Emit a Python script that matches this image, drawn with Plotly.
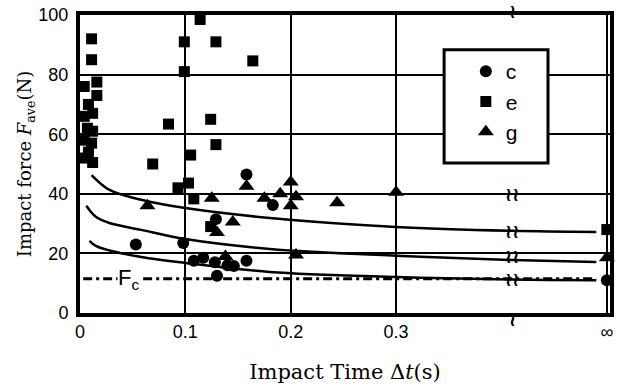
import plotly.graph_objects as go

# ---- data ----
c_t = [0.053, 0.098, 0.108, 0.117, 0.128, 0.13, 0.14, 0.146, 0.158, 0.129, 0.158, 0.183, 0.5]
c_F = [23, 23.5, 17.5, 18.5, 17, 12.5, 16, 15.8, 17.5, 31.5, 46.5, 36.2, 11]

e_t = [0.011, 0.011, 0.016, 0.016, 0.004, 0.008, 0.004, 0.012, 0.007, 0.012, 0.004, 0.011,
       0.008, 0.005, 0.012, 0.084, 0.124, 0.129, 0.099, 0.129, 0.114, 0.164, 0.099, 0.069,
       0.105, 0.103, 0.093, 0.108, 0.124, 0.5]
e_F = [92, 85, 77.5, 73, 76, 70, 66, 67, 62, 61, 58, 57,
       54, 52, 50.5, 63.4, 65, 56.5, 91, 91, 98.5, 84.6, 81, 50,
       53, 43.6, 42, 38.3, 29, 28]

g_t = [0.064, 0.125, 0.13, 0.138, 0.145, 0.158, 0.175, 0.19, 0.2, 0.205, 0.2, 0.205, 0.244, 0.3, 0.5]
g_F = [36, 38.5, 27, 19, 30.5, 42.5, 38.5, 40, 44, 39, 36, 19.5, 37, 40.5, 18.5]

top_t = [0.011, 0.028, 0.058, 0.1, 0.18, 0.3, 0.41, 0.49]
top_F = [46.3, 41.3, 38, 35.2, 31.9, 28.9, 27.6, 27.2]
mid_t = [0.006, 0.015, 0.028, 0.058, 0.1, 0.18, 0.3, 0.41, 0.49]
mid_F = [36, 32.3, 30.2, 27.9, 24.8, 21.5, 19.2, 17.8, 17.1]
bot_t = [0.009, 0.015, 0.028, 0.058, 0.1, 0.18, 0.3, 0.41, 0.49]
bot_F = [24.2, 22.5, 21, 18.8, 16.8, 13.8, 12.1, 11.2, 11]

Fc = 11.5
fc_t = [0.003, 0.49]

x_tickvals = [0, 0.1, 0.2, 0.3, 0.5]
x_ticktext = ["0", "0.1", "0.2", "0.3", "∞"]
y_tickvals = [0, 20, 40, 60, 80, 100]
break_t = 0.41
break_F = [40, 27.6, 19, 11.5]          # breaks on lines inside the plot
break_edge = [1.012, -0.02]             # breaks on top / bottom frame (paper units)

fig = go.Figure()

for tt, ff in [(top_t, top_F), (mid_t, mid_F), (bot_t, bot_F)]:
    fig.add_trace(go.Scatter(x=tt, y=ff, mode="lines", line=dict(color="black", width=2.5, shape="spline"),
                             showlegend=False, hoverinfo="skip"))

fig.add_trace(go.Scatter(x=fc_t, y=[Fc, Fc], mode="lines",
                         line=dict(color="black", width=3, dash="9px,4px,3px,4px"),
                         showlegend=False, hoverinfo="skip"))

fig.add_trace(go.Scatter(x=c_t, y=c_F, mode="markers", name="c", cliponaxis=False,
                         marker=dict(symbol="circle", size=12, color="black")))
fig.add_trace(go.Scatter(x=e_t, y=e_F, mode="markers", name="e", cliponaxis=False,
                         marker=dict(symbol="square", size=11, color="black")))
fig.add_trace(go.Scatter(x=g_t, y=g_F, mode="markers", name="g", cliponaxis=False,
                         marker=dict(symbol="triangle-up", size=14, color="black")))

annotations = [dict(x=0.046, y=Fc, xref="x", yref="y", text="F<sub>c</sub>", showarrow=False,
                    font=dict(family="Liberation Sans", size=22, color="black"), bgcolor="white",
                    borderpad=0)]
for bf in break_F:
    annotations.append(dict(x=break_t, y=bf, xref="x", yref="y", text="<b>≀≀</b>", showarrow=False,
                            font=dict(family="DejaVu Sans", size=19, color="black")))
for be in break_edge:
    annotations.append(dict(x=break_t, y=be, xref="x", yref="paper", yanchor="middle", text="<b>≀</b>",
                            showarrow=False, font=dict(family="DejaVu Sans", size=19, color="black")))

fig.update_layout(
    width=617, height=390,
    margin=dict(l=80, r=7, t=15, b=77),
    paper_bgcolor="white", plot_bgcolor="white",
    font=dict(family="Liberation Sans", size=18, color="black"),
    showlegend=True,
    legend=dict(x=0.728, y=0.879, xanchor="left", yanchor="top", bgcolor="rgba(0,0,0,0)",
                borderwidth=0, font=dict(family="Liberation Sans", size=21, color="black"),
                itemwidth=30),
    shapes=[dict(type="rect", xref="paper", yref="paper", x0=0.687, x1=0.883, y0=0.503, y1=0.883,
                 line=dict(color="black", width=3), fillcolor="white", layer="above")],
    annotations=annotations,
    xaxis=dict(range=[0, 0.503], tickvals=x_tickvals, ticktext=x_ticktext, showgrid=True,
               gridcolor="black", gridwidth=2, zeroline=False, showline=True, linecolor="black",
               linewidth=4, mirror=True, ticks="", ticklabelstandoff=-1, automargin=False,
               title=dict(text="Impact Time Δ<i>t</i>(s)", standoff=25,
                          font=dict(family="DejaVu Serif", size=21, color="black"))),
    yaxis=dict(range=[0, 100], tickvals=y_tickvals, showgrid=True, gridcolor="black", gridwidth=2,
               zeroline=False, showline=True, linecolor="black", linewidth=4, mirror=True, ticks="",
               ticklabelstandoff=4, automargin=False,
               title=dict(text="Impact force <i>F</i><sub>ave</sub>(N)", standoff=3,
                          font=dict(family="DejaVu Serif", size=18, color="black"))),
)

# remove the default 8px page margin so the figure fills the 617x390 window exactly
fig.write_html("out.html", config={"displayModeBar": False},
               post_script="document.body.style.margin='0';document.body.style.overflow='hidden';")
